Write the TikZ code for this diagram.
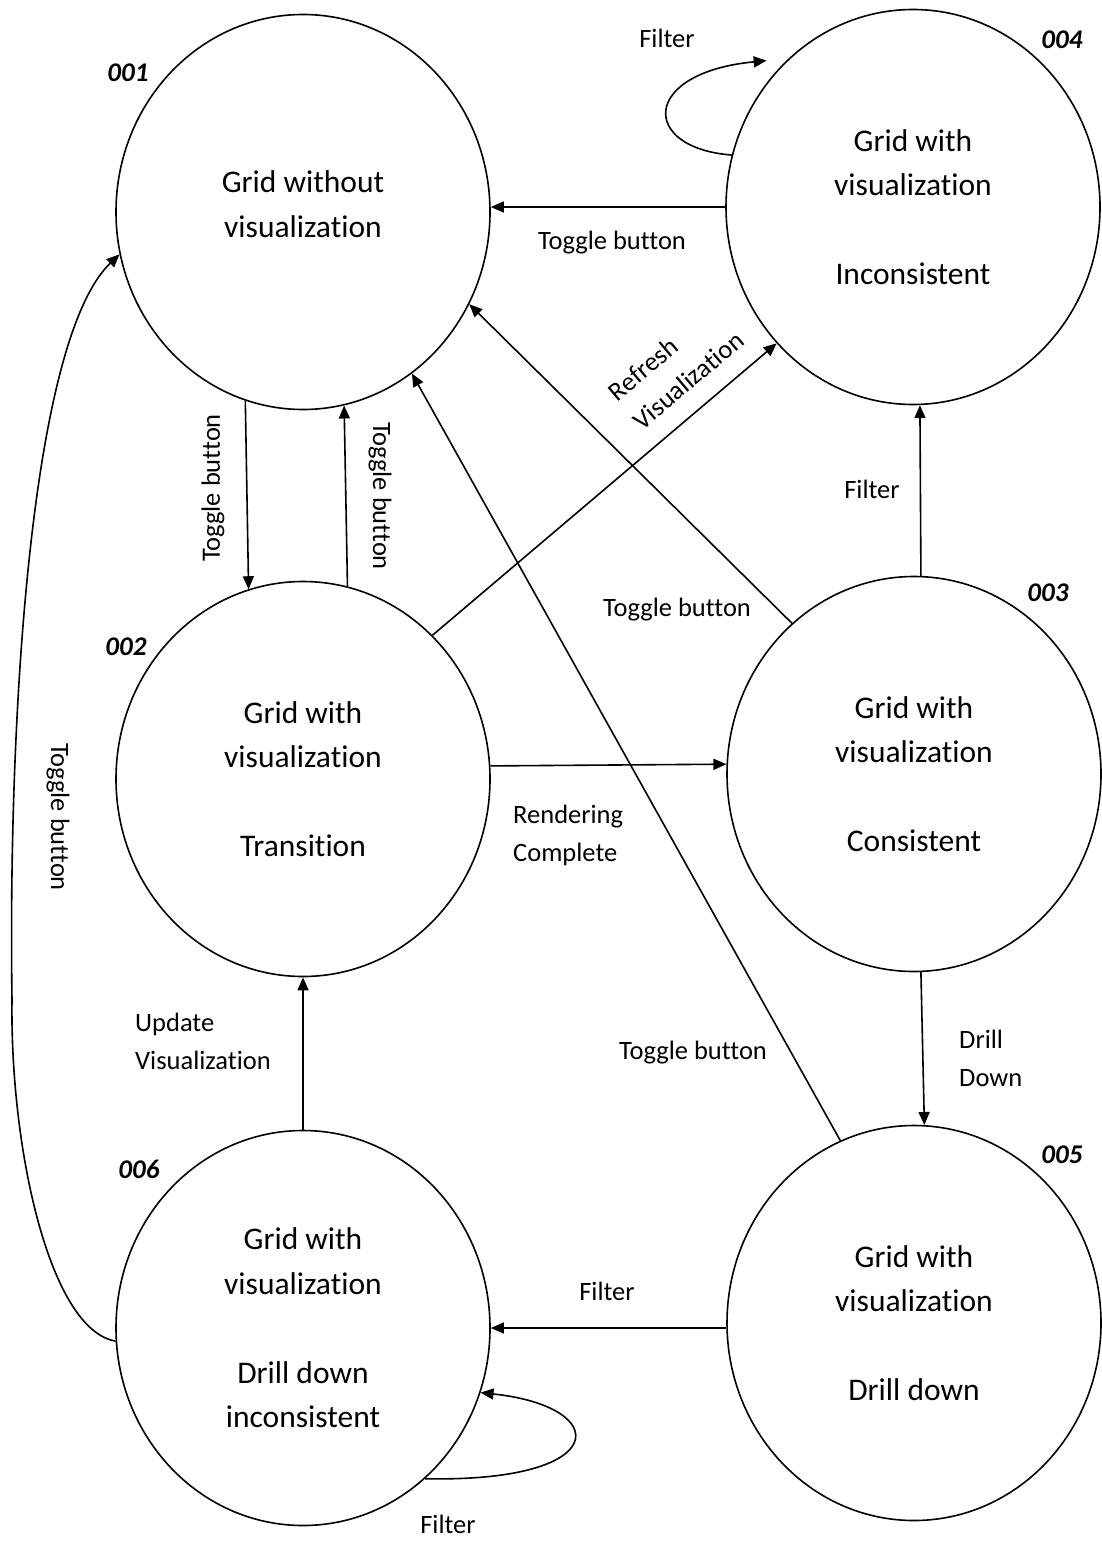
\documentclass[tikz,border=0pt]{standalone}
\usepackage{fontspec}
\setmainfont{Carlito}[Ligatures=NoCommon]
\usetikzlibrary{arrows.meta,shapes.geometric}
\begin{document}
\begin{tikzpicture}[x=1pt,y=-1pt,
  state/.style={draw, line width=1.6pt, ellipse, minimum width=374pt, minimum height=395pt,
    inner sep=0pt, align=center, font=\fontsize{31.5}{44.5}\selectfont},
  tag/.style={font=\fontsize{27}{32}\selectfont\bfseries\itshape, inner sep=0pt},
  lbl/.style={font=\fontsize{26.5}{38}\selectfont, inner sep=0pt},
  edge/.style={line width=1.6pt, -{Triangle[length=13pt,width=11pt]}},
]
\useasboundingbox (0,0) rectangle (1102,1541);

% states
\node[state, text depth=16pt] (n001) at (303,212) {Grid without\\visualization};
\node[state] (n004) at (913,207) {Grid with\\visualization\\[44.5pt]Inconsistent};
\node[state] (n002) at (303,779) {Grid with\\visualization\\[44.5pt]Transition};
\node[state] (n003) at (914,774) {Grid with\\visualization\\[44.5pt]Consistent};
\node[state] (n006) at (303,1328) {Grid with\\visualization\\[44.5pt]Drill down\\inconsistent};
\node[state] (n005) at (914,1323) {Grid with\\visualization\\[44.5pt]Drill down};

% state numbers
\node[tag] (k001) at (128,73) {001};
\node[tag] (k002) at (126,647) {002};
\node[tag] (k003) at (1048,593) {003};
\node[tag] (k004) at (1062,40) {004};
\node[tag] (k005) at (1062,1155) {005};
\node[tag] (k006) at (139,1169) {006};

% transitions
\draw[edge] (n004.west) -- (n004.west -| n001.east);
\draw[edge] (n004.164.6) .. controls +(-92,-7) and +(-126,12) .. ([shift={(-10,-10)}]n004.135.6);
\draw[edge] (n001.253.8) -- (n002.106.2);
\draw[edge] (n002.77.7) -- (n001.282.3);
\draw[edge] (n002.48.7) -- (n004.225.2);
\draw[edge] (n002.4) -- (n003.177.9);
\draw[edge] (n003.129.2) -- (n001.331);
\draw[edge] (n005.112.1) -- (n001.304);
\draw[edge] (n003.88) -- (n004.272);
\draw[edge] (n003.272.3) -- (n005.87.7);
\draw[edge] (n006.east -| n005.west) -- (n006.east);
\draw[edge] (n006.309) .. controls +(188,4) and +(132,14) .. (n006.340.7);
\draw[edge] (n006.north) -- (n002.south);
\draw[edge] (n006.184.6) .. controls (50,1330) and (10,1150) .. (12,1000)
  .. controls (8,720) and (30,340) .. (n001.193);

% transition labels
\node[lbl] (l1) at (612,243) {Toggle button};
\node[lbl] (l2) at (667,38) {Filter};
\node[lbl, rotate=90] (l3) at (213,488) {Toggle button};
\node[lbl, rotate=-90] (l4) at (380,496) {Toggle button};
\node[lbl, rotate=-90] (l5) at (58,817) {Toggle button};
\node[lbl, rotate=40, align=left] (l6) at (676,366) {Refresh\\Visualization};
\node[lbl, anchor=west, align=left] (l7) at (513,835) {Rendering\\Complete};
\node[lbl] (l8) at (677,610) {Toggle button};
\node[lbl] (l9) at (693,1053) {Toggle button};
\node[lbl] (l10) at (872,489) {Filter};
\node[lbl, anchor=west, align=left] (l11) at (959,1058) {Drill\\Down};
\node[lbl] (l12) at (607,1291) {Filter};
\node[lbl] (l13) at (448,1524) {Filter};
\node[lbl, anchor=west, align=left] (l14) at (135,1041) {Update\\Visualization};
\end{tikzpicture}
\end{document}
